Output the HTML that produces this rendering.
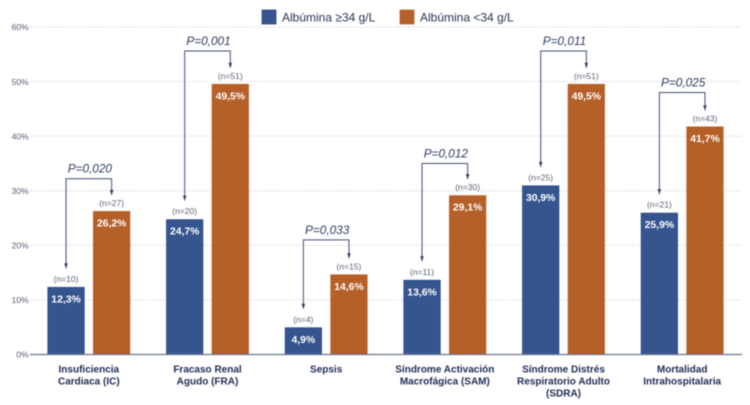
<!DOCTYPE html>
<html lang="es">
<head>
<meta charset="utf-8">
<title>Albúmina chart</title>
<style>
html,body{margin:0;padding:0;background:#fff;}
svg{display:block;font-family:"Liberation Sans",sans-serif;filter:blur(0.4px);}
</style>
</head>
<body>
<svg id="chart" width="750" height="405" viewBox="0 0 750 405" xmlns="http://www.w3.org/2000/svg">
  <g id="grid"></g>
  <g id="yaxis"></g>
  <g id="bars"></g>
  <g id="brackets"></g>
  <g id="xaxis"></g>
  <g>
    <rect x="262" y="10" width="14" height="14" fill="#36558f" stroke="#2d4a86" stroke-width="0.8"></rect>
    <text x="282" y="21.5" font-size="12" fill="#2a3350">Albúmina ≥34 g/L</text>
    <rect x="400" y="10" width="14" height="14" fill="#b55f29" stroke="#c1652c" stroke-width="0.8"></rect>
    <text x="420" y="21.5" font-size="12" fill="#2a3350">Albúmina &lt;34 g/L</text>
  </g>
</svg>
<script>
const categories = [
  ["Insuficiencia", "Cardiaca (IC)"],
  ["Fracaso Renal", "Agudo (FRA)"],
  ["Sepsis"],
  ["Síndrome Activación", "Macrofágica (SAM)"],
  ["Síndrome Distrés", "Respiratorio Adulto", "(SDRA)"],
  ["Mortalidad", "Intrahospitalaria"]
];
const highAlbumin = [12.3, 24.7, 4.9, 13.6, 30.9, 25.9];
const lowAlbumin = [26.2, 49.5, 14.6, 29.1, 49.5, 41.7];
const highCounts = [10, 20, 4, 11, 25, 21];
const lowCounts = [27, 51, 15, 30, 51, 43];
const pValues = ["0,020", "0,001", "0,033", "0,012", "0,011", "0,025"];
const bracketLevels = [32.2, 55.6, 21.0, 35.0, 55.6, 48.0];
const yTicks = [0, 10, 20, 30, 40, 50, 60];

const NS = "http://www.w3.org/2000/svg";
const plotLeft = 30, plotRight = 742, plotBase = 354.5, plotTop = 27;
const barW = 36.4, barGap = 9.2;
const yScale = v => plotBase - (v / 60) * (plotBase - plotTop);
const xCenter = i => plotLeft + (plotRight - plotLeft) / categories.length * (i + 0.5) - 0.5;
const fmt = v => v.toFixed(1).replace(".", ",") + "%";

function make(parent, tag, attrs, text) {
  const el = document.createElementNS(NS, tag);
  for (const k in attrs) el.setAttribute(k, attrs[k]);
  if (text !== undefined) el.textContent = text;
  parent.appendChild(el);
  return el;
}

const grid = document.getElementById("grid");
const yaxis = document.getElementById("yaxis");
yTicks.forEach(t => {
  const y = yScale(t);
  if (t > 0) {
    const g = make(grid, "line", {x1: plotLeft, x2: plotRight - 1, y1: y, y2: y, stroke: "#d8d8d8", "stroke-width": 0.9, "stroke-dasharray": "2 1.6"});
    
    
  }
  const lab = make(yaxis, "text", {x: 28.7, y: y + 3.2, "text-anchor": "end", "font-size": 8.5, fill: "#535b73"}, t + "%");
  
  
});

const bars = document.getElementById("bars");
const brackets = document.getElementById("brackets");
const xaxis = document.getElementById("xaxis");

function drawBar(cx, value, count, fill, edge, kind) {
  const top = yScale(value);
  const r = make(bars, "rect", {x: cx - barW / 2, y: top, width: barW, height: plotBase - top, fill: fill, stroke: edge, "stroke-width": 0.8});
  
  
  const v = make(bars, "text", {x: cx, y: top + 15, "text-anchor": "middle", "font-size": 10.4, "font-weight": "bold", fill: "#fff"}, fmt(value));
  
  
  const n = make(bars, "text", {x: cx, y: top - 5.5, "text-anchor": "middle", "font-size": 8.5, fill: "#5c6273"}, "(n=" + count + ")");
  
  
}

function drawArrow(x, y) {
  const a = make(brackets, "path", {d: "M" + (x - 1.8) + " " + (y - 5) + "L" + (x + 1.8) + " " + (y - 5) + "L" + x + " " + y + "Z", fill: "#2f3a66"});
  
  
}

categories.forEach((lines, i) => {
  const c = xCenter(i);
  const xHigh = c - (barW + barGap) / 2;
  const xLow = c + (barW + barGap) / 2;
  drawBar(xHigh, highAlbumin[i], highCounts[i], "#36558f", "#2d4a8c", "high");
  drawBar(xLow, lowAlbumin[i], lowCounts[i], "#b55f29", "#bf5f26", "low");

  const by = yScale(bracketLevels[i]);
  const endHigh = yScale(highAlbumin[i]) - 19;
  const endLow = yScale(lowAlbumin[i]) - 16.5;
  const p = make(brackets, "path", {d: "M" + xHigh + " " + endHigh + "L" + xHigh + " " + by + "L" + xLow + " " + by + "L" + xLow + " " + endLow, fill: "none", stroke: "#424d7a", "stroke-width": 1});
  
  
  drawArrow(xHigh, endHigh);
  drawArrow(xLow, endLow);
  const pl = make(brackets, "text", {x: c + 1, y: by - 6, "text-anchor": "middle", "font-size": 11.8, "font-style": "italic", fill: "#2f3a60"}, "P=" + pValues[i]);
  
  

  lines.forEach((ln, j) => {
    const t = make(xaxis, "text", {x: c, y: 372.5 + j * 12, "text-anchor": "middle", "font-size": 10, "font-weight": "bold", fill: "#1f2a55"}, ln);
    
    
  });
});

const axisLine = make(xaxis, "line", {x1: plotLeft, x2: plotRight, y1: plotBase, y2: plotBase, stroke: "#6b7391", "stroke-width": 1.2});


</script>
</body>
</html>
